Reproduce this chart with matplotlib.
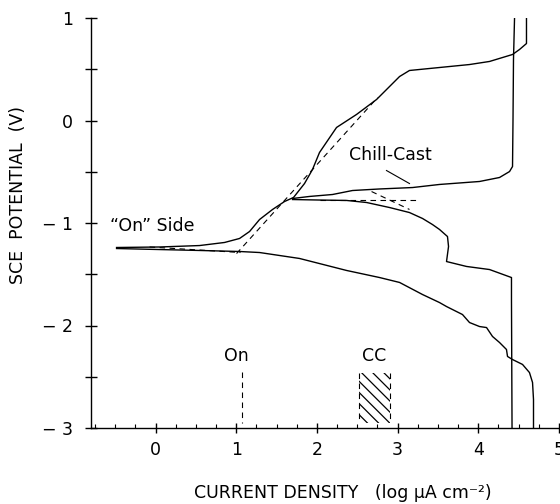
import matplotlib
matplotlib.use("Agg")
import matplotlib.pyplot as plt
from matplotlib.ticker import MultipleLocator, FixedLocator, FixedFormatter

plt.rcParams['font.family'] = ['Liberation Sans Narrow', 'DejaVu Sans']
plt.rcParams['hatch.linewidth'] = 0.9

# "On" side electrode: anodic branch (log i, E vs SCE)
on_anodic_logi = [-0.483, 0.050, 0.545, 0.855, 1.041, 1.165, 1.289, 1.450, 1.599, 1.710,
                  1.846, 1.945, 2.032, 2.243, 2.491, 2.739, 3.024, 3.147, 3.519, 3.891,
                  4.139, 4.424, 4.511, 4.597, 4.597]
on_anodic_e = [-1.239, -1.234, -1.220, -1.190, -1.151, -1.083, -0.966, -0.868, -0.790, -0.751,
               -0.615, -0.478, -0.312, -0.068, 0.059, 0.205, 0.429, 0.488, 0.517, 0.546,
               0.576, 0.644, 0.693, 0.751, 1.0]

# "On" side electrode: cathodic branch
on_cathodic_logi = [-0.483, 0.050, 0.545, 1.041, 1.289, 1.784, 2.367, 2.776, 3.024, 3.309,
                    3.519, 3.606, 3.804, 3.891, 4.015, 4.102, 4.176, 4.263, 4.349, 4.362,
                    4.424, 4.548, 4.634, 4.672, 4.684, 4.684]
on_cathodic_e = [-1.249, -1.259, -1.268, -1.278, -1.288, -1.346, -1.463, -1.532, -1.580, -1.698,
                 -1.776, -1.815, -1.893, -1.971, -2.010, -2.020, -2.107, -2.166, -2.234, -2.302,
                 -2.332, -2.380, -2.459, -2.556, -2.722, -3.0]

# Chill-cast electrode: anodic branch
cc_anodic_logi = [1.698, 1.908, 2.193, 2.441, 2.776, 3.185, 3.519, 4.015, 4.263, 4.387,
                  4.424, 4.430, 4.436, 4.449]
cc_anodic_e = [-0.761, -0.741, -0.722, -0.683, -0.668, -0.654, -0.624, -0.595, -0.556, -0.498,
               -0.449, 0.010, 0.595, 1.0]

# Chill-cast electrode: cathodic branch
cc_cathodic_logi = [1.698, 2.032, 2.367, 2.615, 2.900, 3.147, 3.309, 3.432, 3.519, 3.618,
                    3.631, 3.606, 3.854, 4.139, 4.411, 4.411, 4.418]
cc_cathodic_e = [-0.771, -0.776, -0.780, -0.800, -0.849, -0.898, -0.956, -1.015, -1.063, -1.132,
                 -1.229, -1.376, -1.424, -1.454, -1.532, -1.746, -3.0]

# Tafel extrapolations
on_tafel_a_logi = [1.004, 2.751]
on_tafel_a_e = [-1.298, 0.224]
on_tafel_c_logi = [-0.074, 1.053]
on_tafel_c_e = [-1.234, -1.288]
cc_tafel_a_logi = [2.032, 3.271]
cc_tafel_a_e = [-0.771, -0.771]
cc_tafel_c_logi = [2.677, 3.147]
cc_tafel_c_e = [-0.693, -0.868]

# Corrosion current densities (log uA cm^-2)
on_icorr = 1.066
cc_icorr_range = [2.52, 2.91]
icorr_marker_e = [-2.45, -2.95]

x_ticks = [0, 1, 2, 3, 4, 5]
y_ticks = [-3, -2, -1, 0, 1]
y_tick_labels = ['\u2212 3', '\u2212 2', '\u2212 1', '0', '1']

fig = plt.figure(figsize=(5.6, 5.04), dpi=100)
ax = fig.add_axes([91 / 560, 1 - 428 / 504, 468 / 560, 410 / 504])

lw = 1.0
ax.plot(on_anodic_logi, on_anodic_e, color='black', lw=lw)
ax.plot(on_cathodic_logi, on_cathodic_e, color='black', lw=lw)
ax.plot(cc_anodic_logi, cc_anodic_e, color='black', lw=lw)
ax.plot(cc_cathodic_logi, cc_cathodic_e, color='black', lw=lw)

dash = dict(color='black', lw=0.8, linestyle=(0, (5, 4)))
ax.plot(on_tafel_a_logi, on_tafel_a_e, **dash)
ax.plot(on_tafel_c_logi, on_tafel_c_e, **dash)
ax.plot(cc_tafel_a_logi, cc_tafel_a_e, **dash)
ax.plot(cc_tafel_c_logi, cc_tafel_c_e, **dash)

# i_corr indicators
ax.plot([on_icorr, on_icorr], icorr_marker_e, **dash)
ax.fill_between(cc_icorr_range, icorr_marker_e[1], icorr_marker_e[0] - 0.01,
                facecolor='none', edgecolor='black', hatch='\\\\\\', lw=0)
for xv in cc_icorr_range:
    ax.plot([xv, xv], [icorr_marker_e[0] - 0.01, icorr_marker_e[1]], **dash)

fs = 12.5
ax.text(on_icorr - 0.06, -2.30, 'On', ha='center', va='center', fontsize=fs)
ax.text(sum(cc_icorr_range) / 2, -2.30, 'CC', ha='center', va='center', fontsize=fs)
ax.text(-0.04, -1.034, '\u201cOn\u201d Side', ha='center', va='center', fontsize=fs)
ax.text(2.912, -0.341, 'Chill-Cast', ha='center', va='center', fontsize=fs)
ax.plot([2.862, 3.147], [-0.488, -0.615], color='black', lw=0.8)

ax.set_xlim(-0.8, 5.0)
ax.set_ylim(-3.0, 1.0)
ax.spines['top'].set_visible(False)
ax.spines['right'].set_visible(False)
for s in ('left', 'bottom'):
    ax.spines[s].set_linewidth(1.0)

ax.xaxis.set_major_locator(FixedLocator(x_ticks))
ax.xaxis.set_minor_locator(MultipleLocator(0.25))
ax.yaxis.set_major_locator(FixedLocator(y_ticks))
ax.yaxis.set_major_formatter(FixedFormatter(y_tick_labels))
ax.yaxis.set_minor_locator(MultipleLocator(0.5))

ax.tick_params(axis='y', which='both', direction='inout', length=8, width=1.0,
               labelsize=fs, pad=9)
ax.tick_params(axis='x', which='major', direction='inout', length=7, width=1.0,
               labelsize=fs, pad=6)
ax.tick_params(axis='x', which='minor', direction='in', length=3, width=0.8)

fig.text(18 / 560, 1 - 195 / 504, 'SCE  POTENTIAL  (V)', rotation=90,
         ha='center', va='center', fontsize=fs)
fig.text(343 / 560, 1 - 493 / 504, 'CURRENT DENSITY   (log \u00b5A cm\u207b\u00b2)',
         ha='center', va='center', fontsize=fs)

fig.savefig('out.png', dpi=100)
